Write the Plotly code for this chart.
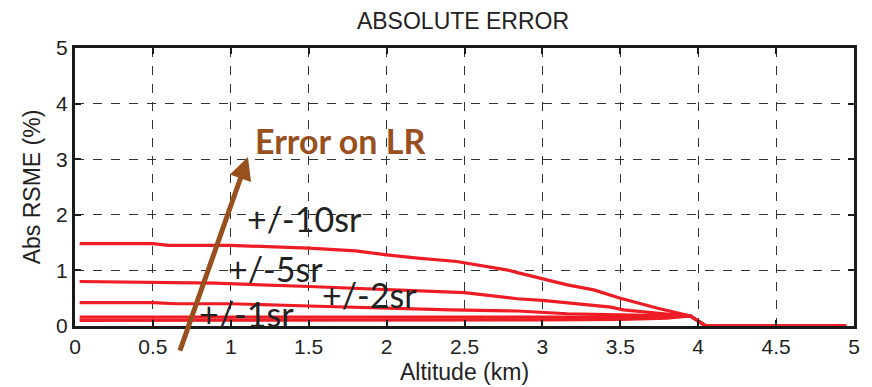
import plotly.graph_objects as go

# Absolute RMSE (%) versus altitude for several lidar-ratio (LR) errors
alt_10 = [0.03, 0.5, 0.6, 1.0, 1.5, 1.8, 2.0, 2.2, 2.45, 2.77, 2.84, 3.0, 3.16, 3.33, 3.5, 3.74, 3.95, 4.05, 4.95]
err_10 = [1.48, 1.48, 1.45, 1.45, 1.40, 1.35, 1.28, 1.22, 1.16, 1.01, 0.96, 0.85, 0.74, 0.65, 0.50, 0.32, 0.18, 0.0, 0.0]

alt_5 = [0.03, 0.5, 0.9, 1.5, 2.0, 2.5, 2.84, 3.0, 3.44, 3.52, 3.78, 3.95, 4.05, 4.95]
err_5 = [0.80, 0.79, 0.77, 0.71, 0.66, 0.60, 0.49, 0.46, 0.34, 0.29, 0.22, 0.18, 0.0, 0.0]

alt_2 = [0.03, 0.5, 0.65, 1.0, 1.5, 2.0, 2.41, 2.84, 3.0, 3.16, 3.5, 3.95, 4.05, 4.95]
err_2 = [0.42, 0.42, 0.40, 0.40, 0.36, 0.32, 0.29, 0.27, 0.24, 0.22, 0.20, 0.18, 0.0, 0.0]

alt_1 = [0.03, 0.9, 1.0, 2.0, 3.0, 3.5, 3.95, 4.05, 4.95]
err_1 = [0.16, 0.16, 0.15, 0.15, 0.15, 0.16, 0.18, 0.0, 0.0]

alt_0 = [0.03, 1.0, 2.0, 3.0, 3.5, 3.8, 3.95, 4.05, 4.95]
err_0 = [0.10, 0.10, 0.10, 0.11, 0.12, 0.14, 0.18, 0.0, 0.0]

x_ticks = [0, 0.5, 1, 1.5, 2, 2.5, 3, 3.5, 4, 4.5, 5]
x_tick_text = ["0", "0.5", "1", "1.5", "2", "2.5", "3", "3.5", "4", "4.5", "5"]
y_ticks = [0, 1, 2, 3, 4, 5]

series = [(alt_10, err_10), (alt_5, err_5), (alt_2, err_2), (alt_1, err_1), (alt_0, err_0)]

RED = "#ee1c24"
BROWN = "#98501f"
SANS = "Liberation Sans, Arial, sans-serif"
HUMANIST = "Lato, Open Sans, sans-serif"

fig = go.Figure()
for xs, ys in series:
    fig.add_trace(go.Scatter(x=xs, y=ys, mode="lines",
                             line=dict(color=RED, width=3.2),
                             showlegend=False, hoverinfo="skip"))

label_font = dict(family=HUMANIST, size=34, color="#222222")
labels = [("+/-10sr", 1.47, 1.94), ("+/-5sr", 1.29, 1.04),
          ("+/-2sr", 1.89, 0.56), ("+/-1sr", 1.10, 0.23)]
for txt, lx, ly in labels:
    fig.add_annotation(x=lx, y=ly, text=txt, showarrow=False,
                       font=label_font, xanchor="center", yanchor="middle")

# Arrow indicating increasing LR error
fig.add_annotation(x=1.11, y=3.04, ax=0.67, ay=-0.47, axref="x", ayref="y",
                   xref="x", yref="y", text="", showarrow=True,
                   arrowhead=2, arrowsize=0.9, arrowwidth=5, arrowcolor=BROWN)
fig.add_annotation(x=1.70, y=3.33, text="<b>Error on LR</b>", showarrow=False,
                   font=dict(family=HUMANIST, size=34, color=BROWN),
                   xanchor="center", yanchor="middle")

axis_common = dict(
    showline=True, linecolor="#1a1a1a", linewidth=3, mirror="ticks",
    ticks="inside", ticklen=6, tickwidth=2, tickcolor="#1a1a1a",
    showgrid=True, gridcolor="#333333", gridwidth=1, griddash="dash",
    zeroline=False, automargin=False,
    tickfont=dict(family=SANS, size=21, color="#222222"),
)

fig.update_xaxes(range=[0, 5], tickvals=x_ticks, ticktext=x_tick_text,
                 title=dict(text="Altitude (km)", standoff=7,
                            font=dict(family=SANS, size=23, color="#222222")),
                 **axis_common)
fig.update_yaxes(range=[0, 5], tickvals=y_ticks,
                 title=dict(text="Abs RSME (%)", standoff=10,
                            font=dict(family=SANS, size=23, color="#222222")),
                 **axis_common)

fig.update_layout(
    width=872, height=387,
    margin=dict(l=75, r=18, t=48, b=61),
    paper_bgcolor="white", plot_bgcolor="white",
    title=dict(text="ABSOLUTE ERROR", x=463 / 872, xanchor="center",
               y=1 - 21 / 387, yanchor="middle",
               font=dict(family=SANS, size=23, color="#222222")),
)

fig.write_html("out.html")
